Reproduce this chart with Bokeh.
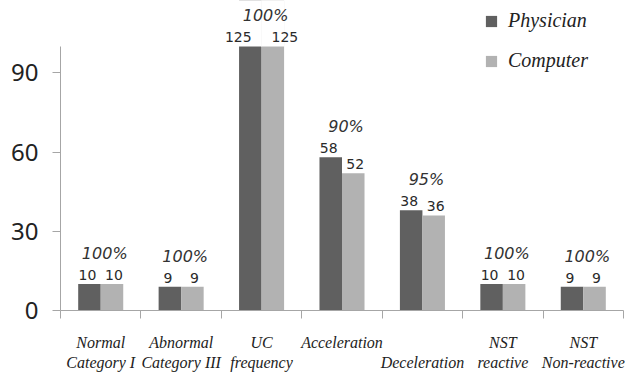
from bokeh.plotting import figure
from bokeh.models import (ColumnDataSource, LabelSet, FixedTicker, Legend,
                          LegendItem, Range1d)
from bokeh.core.properties import value
from bokeh.embed import file_html
from bokeh.resources import INLINE

# Agreement between physician and computer readings
categories = ["Normal\nCategory I", "Abnormal\nCategory III", "UC\nfrequency",
              "Acceleration\n", "\nDeceleration", "NST\nreactive",
              "NST\nNon-reactive"]
physician = [10, 9, 125, 58, 38, 10, 9]
computer = [10, 9, 125, 52, 36, 10, 9]
agreement = ["100%", "100%", "100%", "90%", "95%", "100%", "100%"]
y_ticks = [0, 30, 60, 90]
y_max = 100  # value axis stops here; taller bars run off the axis

DARK = "#606060"
LIGHT = "#b2b2b2"
AXIS = "#a6a6a6"
BAR_W = 0.28

W, H = 625, 373
LEFT, BOTTOM = 60, 56
AXIS_TOP = 47  # pixel row where the value axis ends
frame_h = H - BOTTOM
y_end = y_max * frame_h / (frame_h - AXIS_TOP)

n = len(categories)
centers = [i + 0.5 for i in range(n)]
bounds = [float(i) for i in range(n + 1)]

p = figure(width=W, height=H, output_backend="svg", toolbar_location=None,
           x_range=Range1d(0, n), y_range=Range1d(0, y_end),
           min_border_left=LEFT, min_border_right=2, min_border_top=0,
           min_border_bottom=BOTTOM)
p.outline_line_color = None
p.xgrid.visible = False
p.ygrid.visible = False
p.background_fill_color = "white"
p.border_fill_color = "white"

src = ColumnDataSource(dict(
    xp=[c - BAR_W / 2 for c in centers],
    xq=[c + BAR_W / 2 for c in centers],
    phys=physician,
    comp=computer,
))
r_phys = p.vbar(x="xp", top="phys", width=BAR_W, source=src,
                fill_color=DARK, line_color=None)
r_comp = p.vbar(x="xq", top="comp", width=BAR_W, source=src,
                fill_color=LIGHT, line_color=None)

# the part of any bar beyond the end of the value axis is cut off
over_x, over_top = [], []
for c, a, b in zip(centers, physician, computer):
    if a > y_max:
        over_x.append(c - BAR_W / 2); over_top.append(a)
    if b > y_max:
        over_x.append(c + BAR_W / 2); over_top.append(b)
p.vbar(x=over_x, bottom=y_max, top=over_top, width=BAR_W * 1.02,
       fill_color="white", line_color=None)

# value labels above each bar (wide numbers are nudged apart)
px_per_unit = (W - LEFT - 2) / n
def nudge(v, side):
    return side * (12 if len(str(v)) > 2 else 2) / px_per_unit

lab_src = ColumnDataSource(dict(
    x=[c - BAR_W / 2 + nudge(v, -1) for c, v in zip(centers, physician)] +
      [c + BAR_W / 2 + nudge(v, 1) for c, v in zip(centers, computer)],
    y=[min(v, y_max) for v in physician] + [min(v, y_max) for v in computer],
    t=[str(v) for v in physician] + [str(v) for v in computer],
))
p.add_layout(LabelSet(x="x", y="y", text="t", source=lab_src,
                      text_align="center", text_baseline="alphabetic",
                      y_offset=4, text_font=value("DejaVu Sans"),
                      text_font_size="14px", text_color="#2a2a2a"))

pct_src = ColumnDataSource(dict(
    x=[c + 0.05 for c in centers],
    y=[min(max(a, b), y_max) for a, b in zip(physician, computer)],
    t=agreement,
))
p.add_layout(LabelSet(x="x", y="y", text="t", source=pct_src,
                      text_align="center", text_baseline="alphabetic",
                      y_offset=25, text_font=value("DejaVu Sans"),
                      text_font_style="italic", text_font_size="16px",
                      text_color="#333333"))

# axes
p.yaxis.ticker = FixedTicker(ticks=y_ticks)
p.yaxis.bounds = (0, y_max)
p.yaxis.axis_line_color = AXIS
p.yaxis.major_tick_line_color = AXIS
p.yaxis.major_tick_out = 8
p.yaxis.major_tick_in = 0
p.yaxis.minor_tick_line_color = None
p.yaxis.major_label_text_font = "Noto Sans"
p.yaxis.major_label_text_font_size = "24px"
p.yaxis.major_label_text_color = "#222222"
p.yaxis.major_label_standoff = 14

p.xaxis.ticker = FixedTicker(ticks=centers, minor_ticks=bounds)
p.xaxis.major_label_overrides = {c: lab for c, lab in zip(centers, categories)}
p.xaxis.axis_line_color = AXIS
p.xaxis.major_tick_line_color = None
p.xaxis.major_tick_out = 0
p.xaxis.major_tick_in = 0
p.xaxis.minor_tick_line_color = AXIS
p.xaxis.minor_tick_out = 8
p.xaxis.minor_tick_in = 0
p.xaxis.major_label_text_font = "Liberation Serif"
p.xaxis.major_label_text_font_style = "italic"
p.xaxis.major_label_text_font_size = "16px"
p.xaxis.major_label_text_color = "#222222"
p.xaxis.major_label_standoff = 15

legend = Legend(items=[LegendItem(label="Physician", renderers=[r_phys]),
                       LegendItem(label="Computer", renderers=[r_comp])],
                location=(424, 238), orientation="vertical",
                glyph_width=14, glyph_height=14, label_standoff=10,
                spacing=17, padding=0, margin=0,
                label_text_font="Liberation Serif",
                label_text_font_style="italic",
                label_text_font_size="20px", label_text_color="#222222",
                border_line_color=None, background_fill_alpha=0)
p.add_layout(legend)

open("out.html", "w").write(file_html(p, INLINE))
